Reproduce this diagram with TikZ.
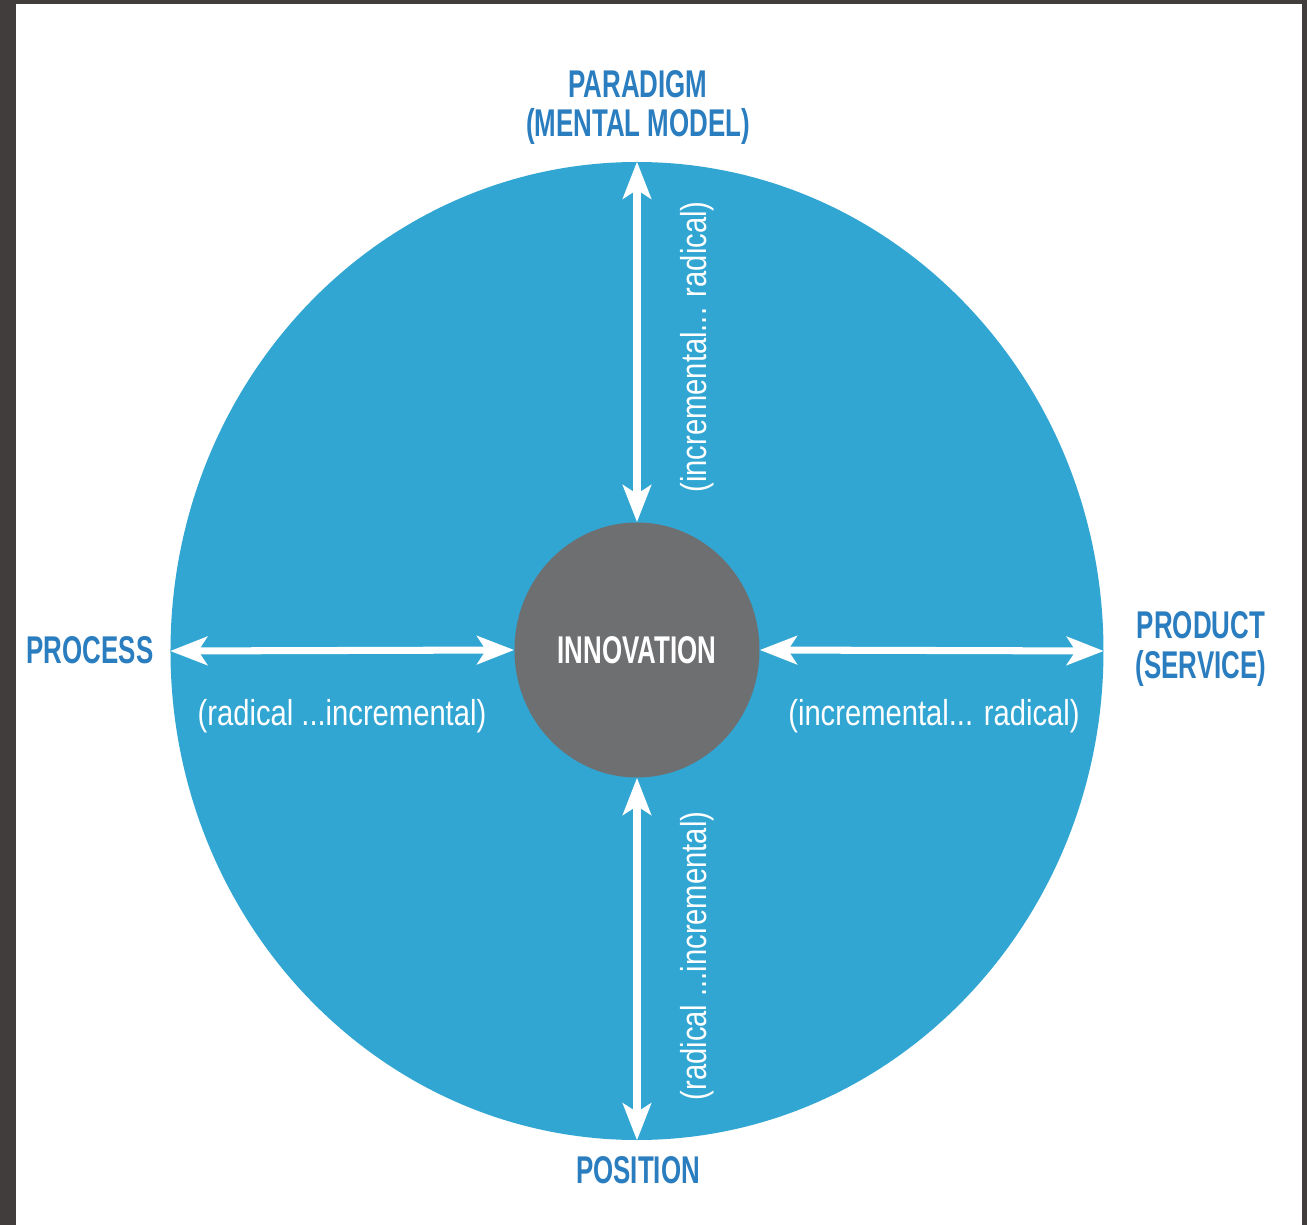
\documentclass[tikz,border=0pt]{standalone}
\usepackage{fontspec}
\usepackage{tikz}
\usetikzlibrary{arrows.meta,shapes.geometric}
\newfontfamily\capsfont[FakeStretch=0.67]{Liberation Sans}
\newfontfamily\notefont[FakeStretch=0.81]{Liberation Sans}
\definecolor{ringblue}{HTML}{31A6D3}
\definecolor{labelblue}{HTML}{2A7DBF}
\definecolor{coregray}{HTML}{6E6F71}
\definecolor{framegray}{HTML}{403D3C}
\pgfdeclarelayer{bg}
\pgfsetlayers{bg,main}
\tikzset{
    every node/.style={inner sep=0mm, align=center}
}
\tikzset{
    axis/.style={font=\capsfont\bfseries\fontsize{22}{22.6}\selectfont, text=labelblue},
    note/.style={font=\notefont\fontsize{20.5}{24}\selectfont, text=white},
    twoway/.style={{Stealth[length=21pt, width=16pt, inset=5pt]}-{Stealth[length=21pt, width=16pt, inset=5pt]}, line width=4pt, draw=white}
}

\begin{document}
\begin{tikzpicture}
        \useasboundingbox (-12.740000cm, -11.480000cm) rectangle (13.400000cm, 13.020000cm);
        \begin{pgfonlayer}{bg}
                \fill[framegray] (-12.740000cm, -11.480000cm) rectangle (13.400000cm, 13.020000cm);
                \fill[white] (-12.420000cm, -11.480000cm) rectangle (13.300000cm, 12.940000cm);
        \end{pgfonlayer}
        \node (ring) [ellipse, fill=ringblue, minimum width=18.660000cm, minimum height=19.560000cm] at (0.000000cm, 0.000000cm) {};
        \node (core) [ellipse, fill=coregray, minimum width=4.900000cm, minimum height=5.100000cm, axis, text=white] at (0.000000cm, 0.020000cm) {INNOVATION};
        \node (paradigm) [axis] at (0.020000cm, 10.870000cm) {PARADIGM\\(MENTAL MODEL)};
        \node (process) [axis] at (-10.940000cm, 0.020000cm) {PROCESS};
        \node (product) [axis] at (11.280000cm, 0.040000cm) {PRODUCT\\(SERVICE)};
        \node (position) [axis] at (0.020000cm, -10.380000cm) {POSITION};
        \node (n1) [note] at (-5.900000cm, -1.300000cm) {(radical ...incremental)};
        \node (n2) [note] at (5.940000cm, -1.300000cm) {(incremental... radical)};
        \node (n3) [note, rotate=90] at (1.200000cm, 6.080000cm) {(incremental... radical)};
        \node (n4) [note, rotate=90] at (1.200000cm, -6.100000cm) {(radical ...incremental)};
        \draw[twoway] (core.north) -- (ring.north);
        \draw[twoway] (core.south) -- (ring.south);
        \draw[twoway] (core.west) -- (ring.west);
        \draw[twoway] (core.east) -- (ring.east);
\end{tikzpicture}
\end{document}
